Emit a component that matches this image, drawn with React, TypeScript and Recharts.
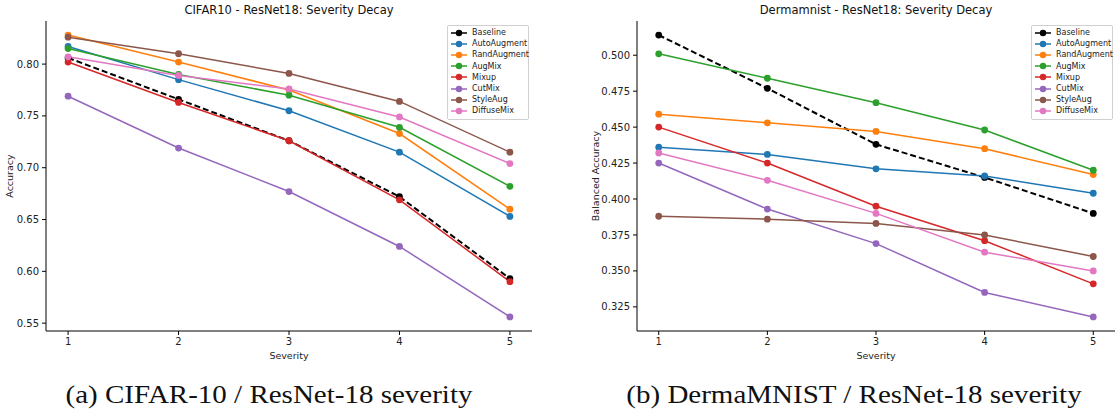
import { LineChart, Line, XAxis, YAxis, ReferenceArea, Legend } from 'recharts';

const severity = [1, 2, 3, 4, 5];
const methods = ['Baseline', 'AutoAugment', 'RandAugment', 'AugMix', 'Mixup', 'CutMix', 'StyleAug', 'DiffuseMix'];
const colors = ['#000000', '#1f77b4', '#ff7f0e', '#2ca02c', '#d62728', '#9467bd', '#8c564b', '#e377c2'];

// CIFAR10 / ResNet18
const cifarBaseline = [0.806, 0.766, 0.726, 0.672, 0.593];
const cifarAutoAugment = [0.817, 0.785, 0.755, 0.715, 0.653];
const cifarRandAugment = [0.828, 0.802, 0.775, 0.733, 0.660];
const cifarAugMix = [0.815, 0.790, 0.770, 0.739, 0.682];
const cifarMixup = [0.802, 0.763, 0.726, 0.669, 0.590];
const cifarCutMix = [0.769, 0.719, 0.677, 0.624, 0.556];
const cifarStyleAug = [0.826, 0.810, 0.791, 0.764, 0.715];
const cifarDiffuseMix = [0.807, 0.789, 0.776, 0.749, 0.704];
const cifarTicks = [0.55, 0.6, 0.65, 0.7, 0.75, 0.8];

// Dermamnist / ResNet18
const dermaBaseline = [0.514, 0.477, 0.438, 0.415, 0.390];
const dermaAutoAugment = [0.436, 0.431, 0.421, 0.416, 0.404];
const dermaRandAugment = [0.459, 0.453, 0.447, 0.435, 0.417];
const dermaAugMix = [0.501, 0.484, 0.467, 0.448, 0.420];
const dermaMixup = [0.450, 0.425, 0.395, 0.371, 0.341];
const dermaCutMix = [0.425, 0.393, 0.369, 0.335, 0.318];
const dermaStyleAug = [0.388, 0.386, 0.383, 0.375, 0.360];
const dermaDiffuseMix = [0.432, 0.413, 0.390, 0.363, 0.350];
const dermaTicks = [0.325, 0.35, 0.375, 0.4, 0.425, 0.45, 0.475, 0.5];

const sans = '"DejaVu Sans", sans-serif';

function buildRows(series: number[][]) {
  return severity.map((s, i) => {
    const row: Record<string, number> = { severity: s };
    methods.forEach((m, k) => {
      row[m] = series[k][i];
    });
    return row;
  });
}

const cifarSeries = [
  cifarBaseline, cifarAutoAugment, cifarRandAugment, cifarAugMix,
  cifarMixup, cifarCutMix, cifarStyleAug, cifarDiffuseMix,
];
const dermaSeries = [
  dermaBaseline, dermaAutoAugment, dermaRandAugment, dermaAugMix,
  dermaMixup, dermaCutMix, dermaStyleAug, dermaDiffuseMix,
];
const cifarData = buildRows(cifarSeries);
const dermaData = buildRows(dermaSeries);

// matplotlib-style 5% margin around the data
function padDomain(values: number[][]): [number, number] {
  const all = values.flat();
  const lo = Math.min(...all);
  const hi = Math.max(...all);
  const pad = (hi - lo) * 0.05;
  return [lo - pad, hi + pad];
}

// legend in plotting order (recharts would sort it by name)
function LegendBox() {
  return (
    <div
      style={{
        width: 82,
        boxSizing: 'border-box',
        border: '1px solid #d0d0d0',
        borderRadius: 2,
        background: 'rgba(255,255,255,0.8)',
        padding: '1px 3px 2px 3px',
        fontFamily: sans,
        fontSize: 8,
        color: '#222',
      }}
    >
      {methods.map((m, k) => (
        <div key={m} style={{ display: 'flex', alignItems: 'center', height: 11.2 }}>
          <svg width={16} height={8} style={{ flex: 'none' }}>
            <line x1={0} x2={16} y1={4} y2={4} stroke={colors[k]} strokeWidth={1.5} />
            <circle cx={8} cy={4} r={3.2} fill={colors[k]} />
          </svg>
          <span style={{ marginLeft: 5, whiteSpace: 'nowrap' }}>{m}</span>
        </div>
      ))}
    </div>
  );
}

interface PanelProps {
  data: Record<string, number>[];
  domain: [number, number];
  ticks: number[];
  digits: number;
  yLabel: string;
  width: number;
  marginLeft: number;
  marginRight: number;
  yAxisWidth: number;
  labelOffset: number;
  legendLeft: number;
}

function Panel({ data, domain, ticks, digits, yLabel, width, marginLeft, marginRight, yAxisWidth, labelOffset, legendLeft }: PanelProps) {
  const tickStyle = { fontSize: 10, fill: '#222', fontFamily: sans };
  return (
    <LineChart
      width={width}
      height={366}
      data={data}
      margin={{ top: 21, right: marginRight, bottom: 0, left: marginLeft }}
    >
      <XAxis
        dataKey="severity"
        type="number"
        domain={[0.8, 5.2]}
        ticks={severity}
        allowDataOverflow
        height={35}
        tick={tickStyle}
        tickSize={4}
        tickMargin={3}
        tickLine={{ stroke: '#000' }}
        axisLine={{ stroke: '#000' }}
        label={{ value: 'Severity', position: 'insideBottom', offset: 7, style: { fontSize: 9.5, fill: '#222', fontFamily: sans } }}
      />
      <YAxis
        type="number"
        domain={domain}
        ticks={ticks}
        allowDataOverflow
        width={yAxisWidth}
        tickFormatter={(v: number) => v.toFixed(digits)}
        tick={tickStyle}
        tickSize={4}
        tickMargin={3}
        tickLine={{ stroke: '#000' }}
        axisLine={{ stroke: '#000' }}
        label={{
          value: yLabel,
          angle: -90,
          position: 'insideLeft',
          offset: labelOffset,
          style: { fontSize: 9.5, fill: '#222', fontFamily: sans, textAnchor: 'middle' },
        }}
      />
      <ReferenceArea fill="none" fillOpacity={0} stroke="#000" strokeWidth={1} />
      <Legend
        content={<LegendBox />}
        layout="horizontal"
        verticalAlign="middle"
        align="center"
        wrapperStyle={{ left: legendLeft, top: 25, width: 82 }}
      />
      {methods.map((m, k) => (
        <Line
          key={m}
          dataKey={m}
          name={m}
          type="linear"
          stroke={colors[k]}
          strokeWidth={k === 0 ? 2 : 1.5}
          strokeDasharray={k === 0 ? '6 3' : undefined}
          dot={{ r: 3.4, fill: colors[k], stroke: colors[k], strokeWidth: 0, strokeDasharray: '' }}
          activeDot={false}
          isAnimationActive={false}
        />
      ))}
    </LineChart>
  );
}

export default function App() {
  const cifarDomain = padDomain(cifarSeries);
  const dermaDomain = padDomain(dermaSeries);
  const titleStyle: React.CSSProperties = {
    position: 'absolute',
    top: 3,
    fontFamily: sans,
    fontSize: 11.5,
    color: '#111',
    textAlign: 'center',
    whiteSpace: 'nowrap',
  };
  const captionStyle: React.CSSProperties = {
    position: 'absolute',
    top: 381,
    fontFamily: '"Liberation Serif", serif',
    fontSize: 25,
    color: '#111',
    textAlign: 'center',
    whiteSpace: 'nowrap',
    transform: 'scaleX(1.16)',
    transformOrigin: 'center',
  };
  return (
    <div style={{ position: 'absolute', left: 0, top: 0, width: 1116, height: 418, background: '#fff', overflow: 'hidden' }}>
      <div style={{ ...titleStyle, left: 46, width: 486 }}>CIFAR10 - ResNet18: Severity Decay</div>
      <div style={{ ...titleStyle, left: 637, width: 478 }}>Dermamnist - ResNet18: Severity Decay</div>
      <div style={{ position: 'absolute', left: 0, top: 0 }}>
        <Panel
          data={cifarData}
          domain={cifarDomain}
          ticks={cifarTicks}
          digits={2}
          yLabel="Accuracy"
          width={556}
          marginLeft={6}
          marginRight={24}
          yAxisWidth={40}
          labelOffset={4}
          legendLeft={447}
        />
      </div>
      <div style={{ position: 'absolute', left: 556, top: 0 }}>
        <Panel
          data={dermaData}
          domain={dermaDomain}
          ticks={dermaTicks}
          digits={3}
          yLabel="Balanced Accuracy"
          width={560}
          marginLeft={37}
          marginRight={1}
          yAxisWidth={44}
          labelOffset={3}
          legendLeft={475}
        />
      </div>
      <div style={{ ...captionStyle, left: 69, width: 400 }}>(a) CIFAR-10 / ResNet-18 severity</div>
      <div style={{ ...captionStyle, left: 654, width: 400 }}>(b) DermaMNIST / ResNet-18 severity</div>
    </div>
  );
}
